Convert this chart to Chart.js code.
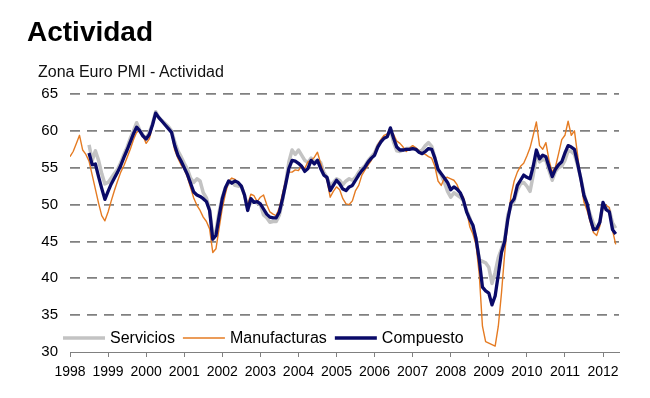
<!DOCTYPE html>
<html lang="es">
<head>
<meta charset="utf-8">
<title>Actividad</title>
<script src="https://cdn.jsdelivr.net/npm/chart.js@4.4.1/dist/chart.umd.min.js"></script>
<style>
    body { margin: 0; background: #fff; font-family: "Liberation Sans", Arial, sans-serif; }
    #wrap { position: relative; width: 650px; height: 398px; }
    #title { position: absolute; left: 27px; top: 16px; font-size: 28px; font-weight: bold; color: #000; }
    #subtitle { position: absolute; left: 38px; top: 63px; font-size: 16px; color: #111; }
    #chart-box { position: absolute; left: 0; top: 0; width: 650px; height: 398px; }
</style>
</head>
<body>
<div id="wrap">
    <div id="chart-box"><canvas id="pmiChart"></canvas></div>
    <div id="title">Actividad</div>
    <div id="subtitle">Zona Euro PMI - Actividad</div>
</div>
<script>
// -----------------------------
// Data (monthly, Jan 1998 - May 2012)
// -----------------------------
const firstYear = 1998;
const yearTicks = ['1998', '1999', '2000', '2001', '2002', '2003', '2004', '2005',
    '2006', '2007', '2008', '2009', '2010', '2011', '2012'];

const servicios = [
    null, null, null, null, null, null, 58.1, 56.0, 57.3, 56.0, 54.2, 52.8,
    53.0, 53.6, 54.2, 54.8, 55.7, 56.8, 57.8, 59.0, 60.0, 61.1, 60.1, 59.4,
    59.0, 59.8, 61.0, 62.6, 61.8, 61.4, 61.0, 60.6, 60.0, 58.5, 57.3, 56.5,
    55.6, 54.8, 53.6, 53.0, 53.5, 53.2, 51.6, 50.9, 49.3, 46.0, 46.4, 49.0,
    51.0, 52.3, 52.9, 53.2, 52.6, 52.5, 52.5, 51.3, 49.6, 50.2, 50.4, 50.2,
    50.0, 48.6, 48.2, 47.6, 47.7, 47.7, 48.6, 50.6, 53.0, 55.8, 57.4, 56.8,
    57.4, 56.7, 56.0, 55.7, 56.3, 55.8, 56.0, 55.7, 54.4, 53.7, 52.6, 53.0,
    53.5, 53.3, 52.7, 53.2, 53.5, 53.3, 53.7, 54.4, 54.9, 55.3, 56.0, 56.5,
    57.0, 58.0, 58.6, 59.1, 59.3, 60.2, 58.4, 57.3, 57.2, 57.4, 57.6, 57.6,
    57.8, 57.5, 57.2, 57.4, 58.0, 58.4, 57.9, 56.4, 54.6, 54.0, 53.0, 51.8,
    51.0, 51.6, 51.3, 51.0, 50.5, 49.2, 48.2, 46.7, 45.4, 42.5, 42.3, 42.1,
    41.5, 39.3, 40.8, 42.8, 44.0, 45.2, 48.6, 49.8, 50.5, 52.0, 52.8, 53.0,
    52.5, 51.8, 54.0, 56.8, 55.8, 56.1, 56.0, 54.6, 53.3, 54.5, 55.0, 55.2,
    56.0, 57.3, 57.2, 56.8, 55.3, 53.6, 51.5, 50.0, 48.6, 47.4, 46.7, 47.6,
    50.0, 49.5, 49.2, 47.5, 46.8
];

const manufacturas = [
    56.5, 57.2, 58.3, 59.4, 57.4, 56.8, 55.9, 54.0, 52.1, 50.2, 48.5, 47.8,
    49.0, 50.5, 51.9, 53.2, 54.4, 55.3, 56.4, 57.5, 58.8, 59.8, 60.1, 59.3,
    58.3, 58.9, 60.6, 62.3, 61.7, 61.3, 60.8, 60.4, 59.7, 57.4, 56.3, 55.4,
    54.8, 53.7, 52.3, 50.9, 49.9, 49.2, 48.3, 47.7, 46.7, 43.5, 44.0, 46.8,
    49.5, 51.5, 53.2, 53.6, 53.4, 52.9, 52.5, 51.0, 50.0, 51.4, 51.2, 50.4,
    51.0, 51.3, 50.0, 49.0, 48.7, 48.5, 49.6, 51.5, 53.3, 54.4, 54.4, 54.7,
    54.6, 55.3, 54.9, 55.8, 56.0, 56.4, 57.1, 55.6, 54.2, 53.3, 51.0, 51.8,
    52.4, 52.0, 50.8, 50.1, 50.0, 50.5, 51.9, 52.6, 54.0, 54.7, 55.4, 56.0,
    57.0, 58.1, 58.8, 59.4, 59.6, 60.0, 59.5, 58.6, 58.3, 57.8, 57.2, 57.6,
    58.0, 57.7, 57.3, 57.0, 56.8, 56.5, 56.3, 55.2, 53.2, 52.6, 53.6, 53.7,
    53.5, 53.3, 52.7, 51.6, 51.0, 49.2, 47.0, 46.0, 44.5, 40.5, 33.5, 31.4,
    31.2, 31.0, 30.8, 33.5, 38.0, 43.3, 47.8, 51.2, 53.2, 54.4, 55.2, 55.6,
    56.6, 57.7, 59.4, 61.2, 58.0, 57.5, 58.4, 56.0, 54.4, 55.1, 56.9, 58.8,
    59.4, 61.3, 59.4, 60.0, 56.7, 53.0, 50.3, 49.2, 47.6, 46.2, 45.8, 47.1,
    49.7, 49.9, 49.6, 46.5, 44.6
];

const compuesto = [
    null, null, null, null, null, null, 57.0, 55.4, 55.5, 53.8, 52.2, 50.7,
    51.8, 52.8, 53.6, 54.4, 55.3, 56.4, 57.4, 58.5, 59.6, 60.5, 60.0, 59.3,
    58.9, 59.5, 60.8, 62.4, 61.8, 61.3, 60.8, 60.3, 59.8, 58.0, 56.7, 55.9,
    55.0, 54.1, 52.9, 51.7, 51.3, 51.1, 50.8, 50.4, 49.2, 45.3, 45.8, 48.4,
    50.8, 52.3, 53.2, 52.9, 53.2, 53.0, 52.5, 51.3, 49.2, 50.8, 50.3, 50.4,
    50.1, 49.4, 48.7, 48.3, 48.2, 48.2, 49.0, 50.8, 52.8, 54.9, 56.0, 55.9,
    55.6, 55.2, 54.5, 54.9, 56.0, 55.5, 56.0, 54.9, 54.0, 53.7, 51.9, 52.6,
    53.3, 52.8, 52.1, 51.9, 52.4, 52.6, 53.3, 54.0, 54.6, 55.1, 55.8, 56.3,
    56.7, 57.8, 58.5, 59.0, 59.2, 60.4, 59.0, 57.8, 57.4, 57.4, 57.5, 57.5,
    57.6, 57.5, 57.1, 56.9, 57.2, 57.6, 57.5, 56.3, 54.8, 54.2, 53.6, 53.0,
    52.0, 52.4, 52.1, 51.6, 50.6, 49.0, 48.0, 47.2, 45.3, 42.5, 38.8, 38.3,
    38.0, 36.4, 37.6, 40.5, 43.5, 45.0, 48.0, 50.2, 50.8, 52.6, 53.3, 54.0,
    53.7, 53.5, 55.2, 57.4, 56.2, 56.7, 56.5, 55.1, 53.8, 54.8, 55.4, 55.8,
    57.0, 58.0, 57.8, 57.5, 55.6, 53.5, 51.2, 50.1, 48.1, 46.6, 46.7, 47.6,
    50.3, 49.3, 49.0, 46.6, 46.0
];

// month index -> decimal year on the linear x axis
function toPoints(values) {
    return values.map((v, i) => ({ x: firstYear + i / 12, y: v }));
}

// -----------------------------
// Legend drawn inside the plot area
// -----------------------------
const insideLegend = {
    id: 'insideLegend',
    afterDraw(chart, args, opts) {
        const ctx = chart.ctx;
        let x = opts.x;
        const y = opts.y;
        ctx.save();
        ctx.font = opts.font;
        ctx.textBaseline = 'middle';
        chart.data.datasets.forEach(ds => {
            ctx.strokeStyle = ds.borderColor;
            ctx.lineWidth = ds.borderWidth;
            ctx.beginPath();
            ctx.moveTo(x, y);
            ctx.lineTo(x + opts.lineLength, y);
            ctx.stroke();
            x += opts.lineLength + 5;
            ctx.fillStyle = '#000';
            ctx.fillText(ds.label, x, y + 1);
            x += ctx.measureText(ds.label).width + 8;
        });
        ctx.restore();
    }
};

// -----------------------------
// Chart
// -----------------------------
const ctx = document.getElementById('pmiChart').getContext('2d');
new Chart(ctx, {
    type: 'line',
    data: {
        datasets: [
            { label: 'Servicios', data: toPoints(servicios), borderColor: '#c3c3c3', borderWidth: 3.5, order: 3 },
            { label: 'Manufacturas', data: toPoints(manufacturas), borderColor: '#e57b22', borderWidth: 1.4, order: 2 },
            { label: 'Compuesto', data: toPoints(compuesto), borderColor: '#0a0a68', borderWidth: 3.3, order: 1 }
        ]
    },
    options: {
        responsive: true,
        maintainAspectRatio: false,
        animation: false,
        parsing: false,
        layout: { padding: { top: 94, right: 31, bottom: 0, left: 0 } },
        elements: { point: { radius: 0 }, line: { tension: 0, borderJoinStyle: 'round' } },
        plugins: {
            legend: { display: false },
            tooltip: { enabled: false },
            insideLegend: { x: 63, y: 338, lineLength: 42, font: '16px "Liberation Sans", Arial, sans-serif' }
        },
        scales: {
            x: {
                type: 'linear',
                min: 1998,
                max: 2012.42,
                afterFit: scale => { scale.height = 46; },
                border: { display: true, color: '#808080', width: 1 },
                grid: { drawOnChartArea: false, drawTicks: true, tickLength: 5, color: '#808080' },
                ticks: {
                    stepSize: 1,
                    includeBounds: false,
                    autoSkip: false,
                    maxRotation: 0,
                    padding: 7,
                    color: '#000',
                    font: { family: '"Liberation Sans", Arial, sans-serif', size: 14 },
                    callback: v => yearTicks[Math.round(v - firstYear)]
                }
            },
            y: {
                min: 30,
                max: 65,
                afterFit: scale => { scale.width = 70; },
                // in v4 border.dash sets the dash of the grid lines
                border: { display: false, dash: [10, 7] },
                grid: {
                    drawTicks: false,
                    color: c => (c.tick && c.tick.value === 30 ? 'rgba(0,0,0,0)' : '#808080'),
                    lineWidth: 1.8
                },
                ticks: {
                    stepSize: 5,
                    padding: 12,
                    color: '#000',
                    font: { family: '"Liberation Sans", Arial, sans-serif', size: 15 }
                }
            }
        }
    },
    plugins: [insideLegend]
});
</script>
</body>
</html>
